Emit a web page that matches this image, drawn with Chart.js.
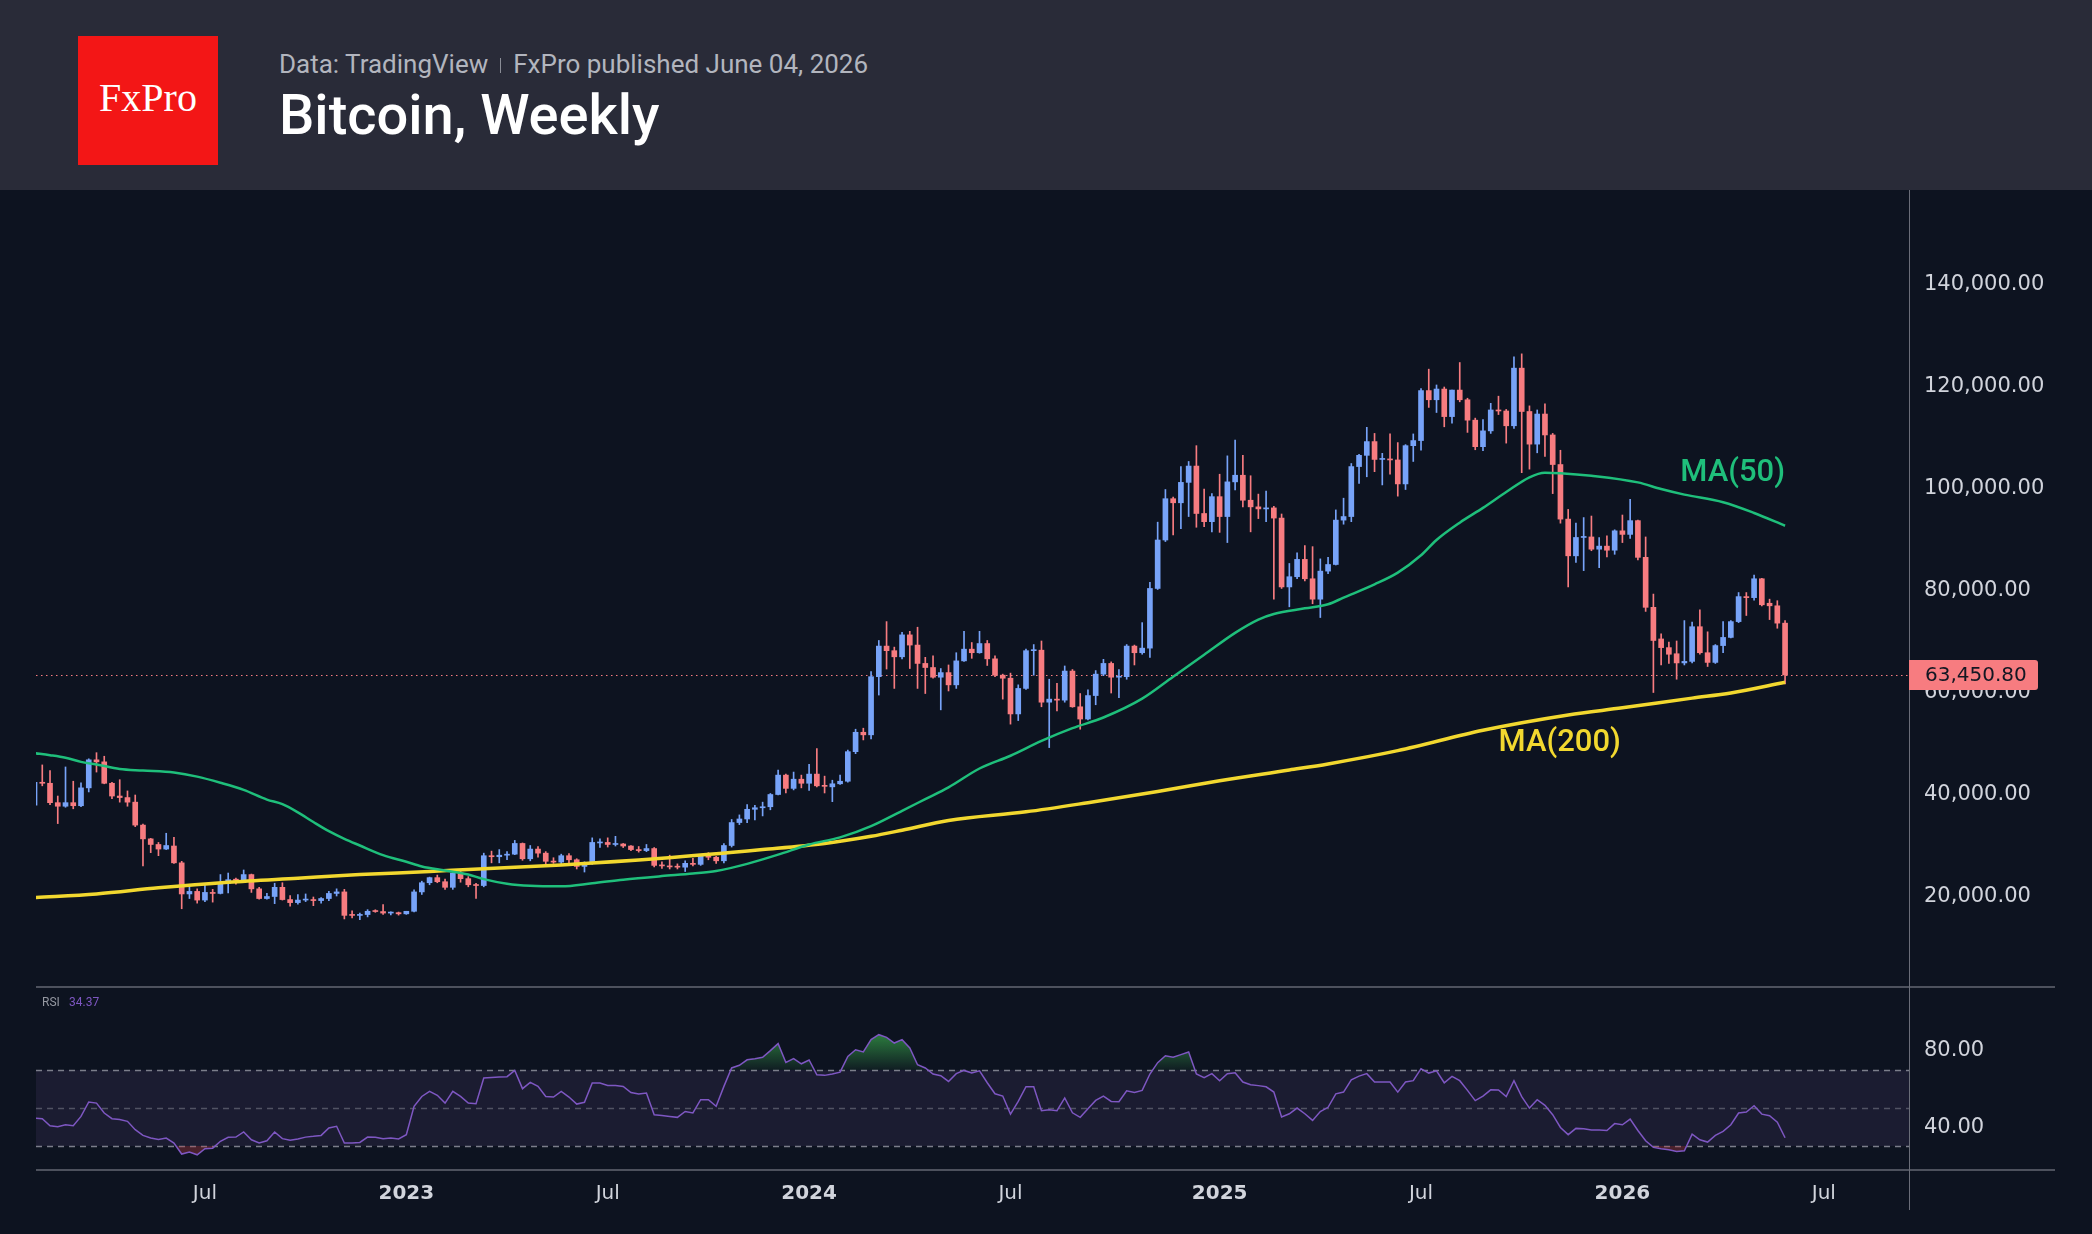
<!DOCTYPE html>
<html>
<head>
<meta charset="utf-8">
<title>Bitcoin, Weekly</title>
<script src="https://cdn.jsdelivr.net/npm/chart.js@4.4.1/dist/chart.umd.min.js"></script>
<style>
html, body { margin: 0; padding: 0; background: #0d1320; }
body { width: 2092px; height: 1234px; position: relative; overflow: hidden; font-family: Roboto, sans-serif; }
#head { position: absolute; left: 0; top: 0; width: 2092px; height: 190px; background: #292b38; }
#logo { position: absolute; left: 78px; top: 36px; width: 140px; height: 129px; background: #f31616; }
#logo span { position: absolute; left: 0; top: 42px; width: 140px; text-align: center; color: #fff; font: 40px/1 'Liberation Serif', serif; }
#meta { position: absolute; left: 279px; top: 51px; font-size: 26px; line-height: 1; color: #b2b5be; white-space: nowrap; }
#meta i { display: inline-block; width: 1px; height: 15px; background: #8a8d96; margin: 0 12px; }
#title { position: absolute; left: 279px; top: 87px; font-size: 56px; line-height: 1; font-weight: 500; color: #fff; white-space: nowrap; }
#wrap { position: absolute; left: 0; top: 190px; width: 2092px; height: 1044px; }
</style>
</head>
<body>
<div id="head">
  <div id="logo"><span>FxPro</span></div>
  <div id="meta">Data: TradingView<i></i>FxPro published June 04, 2026</div>
  <div id="title">Bitcoin, Weekly</div>
</div>
<div id="wrap"><canvas id="chart" width="2092" height="1044"></canvas></div>
<script>
// weekly candles, prices in USD thousands, first bar = week of 2022-01-31
const firstWeek = '2022-01-31';
const open = [
  37.9, 42.4, 42.2, 38.4, 37.7, 38.4, 37.8, 41.3, 46.8, 46.4,
  42.2, 39.7, 39.4, 38.5, 34.0, 31.3, 30.2, 29.3, 29.9, 26.6,
  20.5, 21.0, 19.3, 20.8, 20.6, 22.6, 23.3, 23.2, 24.3, 21.5,
  19.6, 20.0, 21.8, 19.4, 18.8, 19.3, 19.4, 19.2, 19.6, 20.6,
  20.9, 16.33, 16.29, 16.46, 17.1, 17.05, 16.75, 16.83, 16.6, 17.1,
  20.9, 22.7, 23.7, 22.9, 21.8, 24.6, 23.5, 22.3, 22.15, 28.0,
  27.8, 28.1, 28.3, 30.4, 27.4, 29.3, 28.5, 26.9, 26.75, 28.0,
  27.2, 25.9, 26.5, 30.5, 30.6, 30.2, 30.3, 29.9, 29.2, 29.0,
  29.4, 26.1, 26.0, 25.8, 25.75, 26.5, 26.3, 27.9, 27.7, 27.0,
  30.0, 34.5, 35.2, 37.1, 37.4, 37.6, 40.0, 43.8, 41.2, 43.0,
  42.2, 44.0, 41.7, 41.5, 42.1, 42.6, 48.4, 52.2, 51.7, 63.1,
  69.1, 68.2, 67.0, 71.3, 69.3, 65.7, 64.9, 63.0, 63.9, 61.5,
  66.2, 68.5, 67.8, 69.6, 66.6, 63.4, 62.8, 55.8, 60.8, 68.2,
  68.3, 58.1, 58.7, 58.5, 64.2, 57.2, 54.8, 59.4, 63.6, 65.7,
  63.0, 63.1, 69.1, 67.8, 68.7, 80.4, 89.9, 98.0, 97.2, 101.2,
  104.4, 95.1, 93.5, 98.4, 94.5, 101.3, 102.6, 97.7, 96.4, 96.0,
  96.2, 94.2, 80.7, 82.7, 86.1, 82.3, 78.3, 83.8, 85.1, 93.8,
  94.5, 104.3, 106.5, 109.2, 105.7, 105.75, 105.6, 100.9, 108.4, 109.4,
  119.2, 117.4, 119.5, 114.1, 119.3, 117.4, 113.4, 108.2, 111.3, 115.4,
  115.2, 112.3, 123.6, 115.1, 108.7, 114.6, 110.5, 104.7, 94.0, 86.8,
  90.4, 90.5, 88.1, 88.7, 87.9, 91.7, 91.0, 93.7, 86.5, 76.7,
  70.5, 68.8, 67.6, 65.8, 66.1, 72.9, 67.8, 65.9, 69.2, 70.8,
  73.9, 78.8, 78.6, 82.3, 77.5, 77.0, 73.6
];
const high = [
  44.5, 45.8, 44.7, 39.7, 45.4, 42.6, 42.3, 47.0, 48.2, 47.5,
  42.4, 42.9, 40.7, 39.9, 34.2, 31.4, 30.6, 32.4, 31.6, 26.9,
  21.9, 21.5, 22.5, 21.4, 24.3, 24.6, 23.6, 25.2, 24.4, 21.8,
  20.6, 22.6, 22.7, 20.2, 20.4, 20.5, 19.9, 19.8, 21.0, 21.5,
  21.4, 17.2, 16.77, 17.42, 17.4, 18.4, 17.0, 16.95, 17.1, 21.3,
  23.0, 23.8, 24.2, 23.4, 25.2, 25.2, 23.9, 22.6, 28.5, 28.9,
  29.2, 28.8, 31.0, 30.5, 30.0, 29.8, 28.8, 27.6, 28.3, 28.4,
  27.4, 26.8, 31.5, 31.3, 31.5, 31.8, 30.4, 30.0, 29.8, 30.2,
  29.6, 26.8, 28.1, 26.4, 27.0, 27.5, 28.1, 28.6, 27.9, 30.4,
  35.1, 36.0, 38.0, 37.9, 38.5, 40.2, 44.8, 44.0, 44.4, 43.8,
  45.9, 49.0, 43.6, 42.8, 43.8, 48.7, 52.8, 53.0, 64.1, 70.2,
  73.9, 68.9, 71.8, 72.0, 72.8, 66.9, 67.2, 64.7, 65.4, 67.8,
  72.0, 69.8, 72.0, 70.2, 67.2, 63.6, 63.8, 61.5, 68.5, 69.4,
  70.1, 62.6, 61.8, 65.2, 64.5, 59.8, 60.5, 64.3, 66.5, 66.0,
  64.5, 69.4, 69.3, 73.7, 81.6, 93.4, 99.8, 98.3, 104.3, 105.3,
  108.4, 99.9, 99.0, 102.8, 106.4, 109.5, 106.5, 102.5, 98.9, 99.5,
  96.5, 95.0, 85.3, 87.4, 88.8, 88.6, 86.2, 86.5, 95.8, 98.1,
  104.9, 106.7, 112.0, 110.8, 106.9, 110.7, 109.0, 108.6, 110.7, 119.6,
  123.4, 120.3, 119.9, 119.3, 124.7, 117.7, 113.8, 113.5, 116.7, 118.1,
  115.5, 125.8, 126.4, 116.2, 115.4, 116.6, 110.8, 107.5, 95.9, 93.2,
  94.3, 94.6, 90.4, 90.7, 91.9, 94.8, 97.9, 93.8, 90.5, 79.3,
  71.5, 69.9, 70.1, 74.1, 73.8, 76.2, 71.9, 69.4, 73.9, 74.1,
  79.6, 79.6, 83.0, 82.4, 78.3, 78.0, 74.1
];
const low = [
  36.3, 41.7, 38.0, 34.3, 37.5, 37.2, 37.6, 40.5, 44.4, 42.1,
  39.2, 38.5, 37.7, 33.7, 26.0, 28.6, 28.0, 29.2, 26.5, 17.6,
  19.6, 18.7, 19.0, 18.9, 20.5, 20.7, 22.4, 22.8, 20.8, 19.5,
  19.5, 18.6, 19.3, 18.1, 18.5, 19.0, 18.2, 18.7, 19.2, 20.1,
  15.6, 15.82, 15.48, 16.0, 16.9, 16.5, 16.4, 16.35, 16.5, 17.0,
  20.4, 22.3, 22.7, 21.4, 21.4, 22.8, 21.9, 19.6, 21.9, 26.6,
  26.6, 27.2, 28.2, 27.1, 27.0, 27.7, 26.2, 26.5, 26.2, 26.6,
  25.4, 24.8, 26.3, 29.6, 29.7, 29.9, 29.6, 29.0, 28.7, 28.8,
  25.8, 25.5, 25.4, 25.4, 24.9, 26.0, 26.1, 27.2, 26.5, 26.6,
  29.7, 34.1, 34.5, 35.0, 35.8, 37.0, 39.9, 40.3, 40.9, 41.3,
  40.8, 41.5, 40.3, 38.6, 42.0, 42.4, 48.0, 50.7, 50.9, 59.5,
  64.6, 60.8, 66.6, 64.7, 60.8, 59.8, 62.8, 56.6, 60.3, 60.8,
  66.1, 66.7, 67.7, 65.3, 63.1, 58.7, 53.8, 54.5, 60.6, 63.4,
  57.2, 49.2, 56.4, 58.1, 57.1, 52.8, 54.6, 57.6, 63.3, 59.9,
  59.0, 62.6, 65.4, 67.5, 66.9, 80.2, 89.6, 90.9, 92.1, 94.5,
  92.4, 92.5, 91.5, 91.4, 89.4, 99.7, 96.4, 91.5, 94.1, 93.5,
  78.3, 80.4, 76.8, 82.3, 81.9, 77.4, 74.7, 83.3, 85.0, 93.0,
  93.5, 101.0, 102.3, 103.3, 100.7, 102.8, 98.5, 99.8, 105.3, 107.5,
  115.9, 114.9, 112.1, 112.8, 117.0, 111.0, 107.6, 107.4, 110.8, 114.5,
  108.9, 111.8, 103.1, 103.8, 107.0, 106.3, 99.0, 93.2, 80.7, 85.5,
  83.9, 87.8, 84.5, 86.6, 87.1, 89.4, 90.2, 86.0, 75.9, 60.0,
  65.4, 65.7, 62.6, 65.4, 65.8, 67.5, 65.1, 65.7, 67.8, 70.7,
  73.7, 75.1, 78.1, 77.0, 74.3, 72.6, 61.7
];
const close = [
  42.4, 42.2, 38.4, 37.7, 38.4, 37.8, 41.3, 46.8, 46.4, 42.2,
  39.7, 39.4, 38.5, 34.0, 31.3, 30.2, 29.3, 30.0, 26.6, 20.5,
  21.0, 19.3, 20.8, 20.6, 22.6, 23.3, 23.2, 24.3, 21.5, 19.6,
  20.0, 21.8, 19.4, 18.8, 19.3, 19.4, 19.2, 19.6, 20.6, 20.9,
  16.3, 16.29, 16.46, 17.1, 17.05, 16.75, 16.83, 16.6, 17.1, 20.9,
  22.7, 23.7, 22.9, 21.8, 24.6, 23.5, 22.3, 22.15, 28.0, 27.8,
  28.1, 28.3, 30.4, 27.4, 29.3, 28.5, 26.9, 26.75, 28.0, 27.2,
  25.9, 26.5, 30.6, 30.6, 30.2, 30.3, 29.9, 29.2, 29.0, 29.4,
  26.1, 26.0, 25.8, 25.75, 26.5, 26.3, 27.9, 27.7, 27.0, 30.0,
  34.5, 35.2, 37.1, 37.4, 37.6, 40.0, 43.8, 41.2, 43.0, 42.2,
  44.0, 41.7, 41.6, 42.1, 42.6, 48.4, 52.2, 51.7, 63.1, 69.1,
  68.2, 67.0, 71.3, 69.3, 65.7, 64.9, 63.0, 63.9, 61.5, 66.2,
  68.5, 67.8, 69.6, 66.6, 63.4, 62.8, 55.8, 60.8, 68.2, 68.3,
  58.1, 58.7, 58.5, 64.2, 57.2, 54.8, 59.4, 63.6, 65.7, 63.0,
  63.1, 69.1, 67.8, 68.7, 80.4, 89.9, 98.0, 97.2, 101.2, 104.4,
  95.1, 93.5, 98.4, 94.5, 101.3, 102.6, 97.7, 96.4, 96.0, 96.2,
  94.2, 80.7, 82.7, 86.1, 82.3, 78.3, 83.8, 85.1, 93.8, 94.5,
  104.3, 106.5, 109.2, 105.7, 105.75, 105.6, 100.9, 108.4, 109.4, 119.2,
  117.4, 119.5, 114.1, 119.3, 117.4, 113.4, 108.2, 111.3, 115.4, 115.2,
  112.3, 123.6, 115.1, 108.7, 114.6, 110.5, 104.7, 94.0, 86.8, 90.4,
  90.5, 88.1, 88.7, 87.9, 91.7, 91.0, 93.7, 86.5, 76.7, 70.2,
  68.8, 67.5, 65.8, 66.1, 72.9, 67.8, 65.9, 69.2, 70.8, 73.9,
  78.8, 78.6, 82.3, 77.2, 77.0, 73.6, 63.4508
];

// moving averages at these week numbers
const ma50Week = [0, 2, 4, 6, 8, 11, 14, 18, 21, 24, 27, 30, 32, 34, 36, 38, 40, 42, 45, 48,
  50, 53, 56, 58, 61, 64, 68, 72, 76, 81, 85, 88, 92, 96, 100, 104, 108, 112, 115, 118,
  122, 126, 130, 134, 138, 143, 147, 151, 155, 158, 160, 164, 167, 169, 173, 176, 179, 181, 184, 187,
  190, 193, 195, 197, 201, 207, 210, 213, 218, 222, 226];
const ma50 = [48.1, 47.7, 47.2, 46.4, 45.9, 45.0, 44.7, 44.3, 43.5, 42.3, 40.9, 39.0, 38.1, 36.5, 34.6, 32.8, 31.3, 30.0, 28.1, 26.8,
  25.9, 25.1, 24.3, 23.4, 22.5, 22.1, 22.0, 22.6, 23.3, 24.0, 24.5, 25.0, 26.4, 28.2, 30.2, 31.6, 33.8, 36.8, 39.1, 41.4,
  45.1, 47.6, 50.5, 53.0, 55.1, 58.8, 63.1, 67.4, 71.7, 74.3, 75.4, 76.5, 77.3, 78.6, 81.2, 83.5, 86.9, 89.9, 93.3, 96.2,
  99.3, 102.2, 103.1, 103.0, 102.5, 101.2, 99.9, 98.8, 97.3, 95.2, 92.7];
const ma200Week = [0, 8, 16, 25, 34, 42, 51, 56, 68, 81, 94, 102, 108, 112, 118, 128, 136, 145, 153, 162,
  167, 176, 187, 198, 205, 214, 219, 226];
const ma200 = [19.8, 20.5, 21.7, 22.8, 23.6, 24.3, 24.9, 25.3, 26.2, 27.5, 29.2, 30.4, 31.8, 33.0, 34.9, 36.6, 38.4, 40.6, 42.7, 44.8,
  46.0, 48.6, 52.6, 55.6, 57.0, 58.9, 59.9, 62.0];

// RSI(14), one value per week
const rsi = [
  44.7, 44.4, 40.7, 40.2, 41.2, 40.7, 45.6, 53.2, 52.6, 47.4,
  44.4, 44.0, 43.0, 38.6, 35.6, 34.2, 33.5, 34.2, 31.6, 25.8,
  26.8, 25.4, 28.6, 28.9, 32.5, 34.6, 34.7, 37.4, 33.3, 31.6,
  32.8, 37.4, 33.9, 33.0, 33.7, 34.7, 35.1, 35.6, 39.5, 40.4,
  31.6, 31.6, 31.9, 34.7, 34.6, 33.9, 34.2, 33.7, 36.0, 50.9,
  56.1, 58.8, 56.7, 52.6, 58.8, 56.1, 52.6, 52.3, 65.8, 66.1,
  66.3, 66.5, 69.8, 60.2, 63.5, 61.4, 56.1, 55.8, 58.8, 55.8,
  52.1, 53.0, 63.2, 63.2, 61.9, 61.9, 61.4, 58.2, 57.4, 57.9,
  46.5, 46.1, 45.6, 45.1, 48.2, 47.4, 54.4, 54.4, 50.9, 61.4,
  71.1, 72.5, 75.4, 76.0, 76.7, 80.2, 83.9, 74.0, 76.0, 73.3,
  75.3, 67.5, 67.2, 67.9, 68.9, 77.2, 80.7, 79.5, 86.0, 88.6,
  87.2, 84.2, 86.0, 81.6, 72.8, 71.1, 67.9, 67.0, 64.0, 68.1,
  69.8, 68.4, 69.6, 63.3, 57.5, 56.3, 46.8, 53.5, 61.2, 61.2,
  48.6, 49.1, 48.6, 55.3, 47.5, 45.1, 49.6, 54.0, 56.3, 53.5,
  53.3, 59.1, 58.2, 59.3, 67.9, 73.9, 77.5, 76.7, 78.1, 79.5,
  67.9, 66.0, 68.1, 64.4, 68.1, 68.6, 63.7, 62.3, 61.8, 61.2,
  58.4, 45.3, 47.0, 50.0, 47.0, 43.5, 48.2, 50.4, 57.5, 58.4,
  64.9, 66.8, 68.1, 63.7, 63.7, 63.7, 58.4, 63.7, 64.4, 70.7,
  68.4, 69.6, 63.3, 66.7, 64.4, 59.3, 53.9, 56.3, 59.6, 59.5,
  56.1, 64.4, 56.0, 50.0, 54.4, 51.4, 46.5, 39.8, 36.0, 39.3,
  39.1, 38.4, 38.4, 38.2, 41.8, 41.2, 44.2, 38.2, 32.8, 29.3,
  28.6, 28.1, 27.2, 27.5, 36.3, 33.3, 32.1, 35.6, 37.7, 41.2,
  47.4, 47.9, 51.2, 46.8, 46.0, 42.6, 34.37
];

const priceTicks = [20, 40, 60, 80, 100, 120, 140, 160];
const rsiTicks = [40, 80];
const rsiLevels = [70, 50, 30];
const timeTickDates = ['2022-07-04', '2023-01-02', '2023-07-03', '2024-01-01', '2024-07-01',
  '2025-01-06', '2025-07-07', '2026-01-05', '2026-07-06'];
const timeTickLabels = ['Jul', '2023', 'Jul', '2024', 'Jul', '2025', 'Jul', '2026', 'Jul'];

const UP = '#77a3f8';
const DOWN = '#f77c80';
const MA50C = '#1fbf7b';
const MA200C = '#f2d82f';
const RSIC = '#7e57c2';
const TXT = '#d1d4dc';
const AXIS_FONT = "'DejaVu Sans'";

const weekOf = d => (Date.parse(d) - Date.parse(firstWeek)) / (7 * 864e5);
const timeTicks = timeTickDates.map(weekOf);
const candleColor = close.map((c, i) => c >= open[i] ? UP : DOWN);
const money = v => (v * 1000).toLocaleString('en-US', { minimumFractionDigits: 2, maximumFractionDigits: 2 });

const maLabels = [
  { text: 'MA(50)', week: 226, price: 103.0, color: MA50C },
  { text: 'MA(200)', week: 204.8, price: 50.0, color: MA200C }
];

function rsiGradient(c) {
  const s = c.chart.scales.yRsi;
  if (!s || s.top === undefined) return 'rgba(46,130,60,0.5)';
  const g = c.chart.ctx.createLinearGradient(0, s.getPixelForValue(90), 0, s.getPixelForValue(70));
  g.addColorStop(0, 'rgba(52,150,70,0.85)');
  g.addColorStop(1, 'rgba(52,150,70,0.08)');
  return g;
}

const panels = {
  id: 'panels',
  beforeDatasetsDraw(chart) {
    const { ctx, chartArea: a, scales: { y, yRsi } } = chart;
    ctx.save();
    const t70 = yRsi.getPixelForValue(70), t30 = yRsi.getPixelForValue(30);
    ctx.fillStyle = '#1b1c31';
    ctx.fillRect(a.left, t70, a.right - a.left, t30 - t70);
    ctx.lineWidth = 1.3;
    ctx.setLineDash([6, 5]);
    rsiLevels.forEach(v => {
      const py = Math.round(yRsi.getPixelForValue(v)) + 0.5;
      ctx.strokeStyle = v === 50 ? 'rgba(135,138,150,0.5)' : 'rgba(135,138,150,0.9)';
      ctx.beginPath(); ctx.moveTo(a.left, py); ctx.lineTo(a.right, py); ctx.stroke();
    });
    const py = Math.round(y.getPixelForValue(close[close.length - 1])) + 0.5;
    ctx.strokeStyle = DOWN;
    ctx.lineWidth = 1;
    ctx.setLineDash([1.5, 3.5]);
    ctx.beginPath(); ctx.moveTo(a.left, py); ctx.lineTo(a.right, py); ctx.stroke();
    ctx.restore();
  },
  afterDraw(chart) {
    const { ctx, chartArea: a, scales: { x, y, yRsi } } = chart;
    ctx.save();
    // pane separators and price axis line
    ctx.strokeStyle = '#8d909a';
    ctx.lineWidth = 1.2;
    [y.bottom, yRsi.bottom].forEach(py => {
      ctx.beginPath(); ctx.moveTo(a.left, py); ctx.lineTo(chart.width - 37, py); ctx.stroke();
    });
    ctx.strokeStyle = '#6a6d78';
    ctx.lineWidth = 1;
    ctx.beginPath(); ctx.moveTo(a.right + 0.5, 0); ctx.lineTo(a.right + 0.5, x.bottom - 24); ctx.stroke();

    // last price tag
    const last = close[close.length - 1];
    const cy = y.getPixelForValue(last);
    ctx.fillStyle = DOWN;
    ctx.beginPath(); ctx.roundRect(a.right, cy - 15, 129, 30, [0, 3, 3, 0]); ctx.fill();
    ctx.fillStyle = '#131722';
    ctx.font = '20px ' + AXIS_FONT;
    ctx.textBaseline = 'middle';
    ctx.textAlign = 'left';
    ctx.fillText(money(last), a.right + 16, cy + 1);

    // MA labels
    ctx.font = '500 31px Roboto';
    ctx.textAlign = 'right';
    maLabels.forEach(l => {
      ctx.fillStyle = l.color;
      ctx.fillText(l.text, x.getPixelForValue(l.week), y.getPixelForValue(l.price));
    });

    // RSI caption
    ctx.font = '12px Roboto';
    ctx.textAlign = 'left';
    ctx.fillStyle = '#9598a1';
    ctx.fillText('RSI', a.left + 6, yRsi.top + 16);
    ctx.fillStyle = RSIC;
    ctx.fillText(rsi[rsi.length - 1].toFixed(2), a.left + 33, yRsi.top + 16);
    ctx.restore();
  }
};

Chart.defaults.font.family = 'Roboto';
Chart.defaults.color = TXT;

const ctx = document.getElementById('chart');
const chart = new Chart(ctx, {
  type: 'bar',
  data: {
    datasets: [
      {
        label: 'Wick',
        data: low.map((l, i) => ({ x: i, y: [l, high[i]] })),
        backgroundColor: candleColor,
        barThickness: 1,
        grouped: false,
        yAxisID: 'y',
        order: 4
      },
      {
        label: 'Body',
        data: open.map((o, i) => ({ x: i, y: [o, close[i]] })),
        backgroundColor: candleColor,
        barThickness: 5,
        minBarLength: 1,
        grouped: false,
        yAxisID: 'y',
        order: 3
      },
      {
        type: 'line',
        label: 'MA(200)',
        data: ma200Week.map((w, k) => ({ x: w, y: ma200[k] })),
        borderColor: MA200C,
        borderWidth: 3.5,
        pointRadius: 0,
        cubicInterpolationMode: 'monotone',
        yAxisID: 'y',
        order: 2
      },
      {
        type: 'line',
        label: 'MA(50)',
        data: ma50Week.map((w, k) => ({ x: w, y: ma50[k] })),
        borderColor: MA50C,
        borderWidth: 2.5,
        pointRadius: 0,
        cubicInterpolationMode: 'monotone',
        yAxisID: 'y',
        order: 1
      },
      {
        type: 'line',
        label: 'RSI',
        data: rsi.map((v, i) => ({ x: i, y: v })),
        borderColor: RSIC,
        borderWidth: 1.5,
        pointRadius: 0,
        backgroundColor: rsiGradient,
        fill: { target: { value: 70 }, below: 'transparent' },
        yAxisID: 'yRsi',
        order: 0
      },
      {
        type: 'line',
        label: 'RSI oversold',
        data: rsi.map((v, i) => ({ x: i, y: v })),
        borderWidth: 0,
        pointRadius: 0,
        fill: { target: { value: 30 }, above: 'transparent', below: 'rgba(190,60,70,0.35)' },
        yAxisID: 'yRsi',
        order: 0
      }
    ]
  },
  options: {
    responsive: false,
    animation: false,
    events: [],
    layout: { padding: { left: 36, right: 0, top: 0, bottom: 0 } },
    plugins: { legend: { display: false }, tooltip: { enabled: false } },
    scales: {
      x: {
        type: 'linear',
        min: 0.19,
        max: 242.0,
        offset: false,
        grid: { display: false },
        border: { display: false },
        afterBuildTicks: s => { s.ticks = timeTicks.map(v => ({ value: v })); },
        afterFit: s => { s.height = 64; s.paddingLeft = 0; s.paddingRight = 0; },
        ticks: {
          autoSkip: false,
          maxRotation: 0,
          padding: 4,
          color: TXT,
          callback: (v, i) => timeTickLabels[i],
          font: c => ({ family: AXIS_FONT, size: 20, weight: /^\d{4}$/.test(timeTickLabels[c.index]) ? 'bold' : 'normal' })
        }
      },
      y: {
        type: 'linear',
        position: 'right',
        stack: 'panes',
        stackWeight: 797,
        min: 2.255,
        max: 158.53,
        grid: { display: false, drawTicks: false },
        border: { display: false },
        afterBuildTicks: s => { s.ticks = priceTicks.map(v => ({ value: v })); },
        afterFit: s => { s.width = 183; s.paddingTop = 0; s.paddingBottom = 0; },
        ticks: { padding: 15, color: TXT, font: { family: AXIS_FONT, size: 21 }, callback: v => money(v) }
      },
      yRsi: {
        type: 'linear',
        position: 'right',
        stack: 'panes',
        stackWeight: 183,
        min: 17.4,
        max: 113.7,
        grid: { display: false, drawTicks: false },
        border: { display: false },
        afterBuildTicks: s => { s.ticks = rsiTicks.map(v => ({ value: v })); },
        afterFit: s => { s.width = 183; s.paddingTop = 0; s.paddingBottom = 0; },
        ticks: { padding: 15, color: TXT, font: { family: AXIS_FONT, size: 21 }, callback: v => v.toFixed(2) }
      }
    }
  },
  plugins: [panels]
});
</script>
</body>
</html>
